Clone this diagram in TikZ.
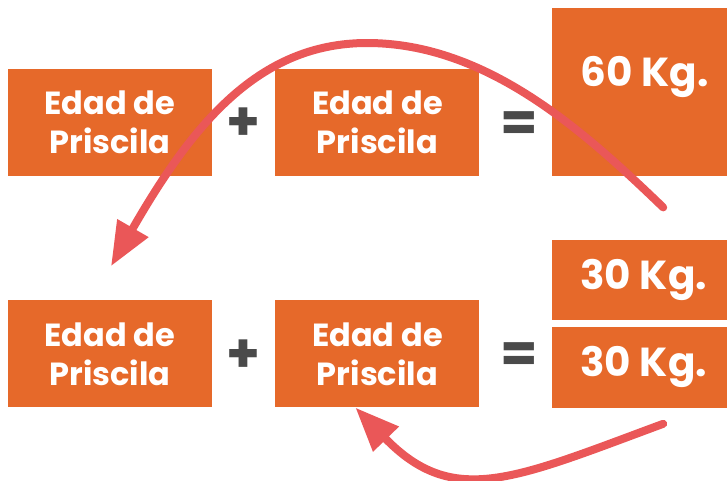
\documentclass[tikz,border=0pt]{standalone}
\usepackage{fontspec}
\setmainfont{Poppins}
\usetikzlibrary{arrows.meta, positioning, calc}
\definecolor{boxorange}{HTML}{E6692A}
\definecolor{arcred}{HTML}{EA5758}
\definecolor{signgray}{HTML}{4A4A4A}

\begin{document}
\begin{tikzpicture}[
    x=1pt, y=-1pt,
    every node/.style={align=center, inner sep=0pt},
    edad/.style={rectangle, fill=boxorange, minimum width=204pt, minimum height=107pt,
                 text=white, font=\fontsize{32}{39}\selectfont\bfseries},
    kgbox/.style={rectangle, fill=boxorange, minimum width=175pt,
                  text=white, font=\fontsize{40.5}{48}\selectfont\bfseries},
    kgtxt/.style={text=white, font=\fontsize{40.5}{48}\selectfont\bfseries},
    sign/.style={text=signgray, font=\fontsize{54}{60}\selectfont\bfseries},
    arc/.style={draw=arcred, line width=8pt, line cap=round,
                -{Triangle[length=44pt, width=34pt]}}
]
\useasboundingbox (0,0) rectangle (727,480);

% Top row
\node[edad] (e1) at (110,122.5) {Edad de\\Priscila};
\node[edad, right=63pt of e1] (e2) {Edad de\\Priscila};
\node[kgbox, minimum height=168pt, anchor=north west] (s60) at (552,8) {};
\node[kgtxt] (t60) at ($(s60.center)+(5,-15)$) {60 Kg.};
\node[sign] (plus1) at ($(e1.east)!0.5!(e2.west)+(0,2)$) {+};
\node[sign] (eq1) at ($(e2.east)!0.5!(e2.east -| s60.west)+(3,4)$) {=};

% Bottom row
\node[edad, below=124pt of e1] (e3) {Edad de\\Priscila};
\node[edad, right=63pt of e3] (e4) {Edad de\\Priscila};
\node[kgbox, minimum height=80pt, anchor=north west] (kgA) at (552,240) {\hspace{8pt}30 Kg.};
\node[kgbox, minimum height=81pt, below=6pt of kgA] (kgB) {\hspace{8pt}30 Kg.};
\node[sign] (plus2) at ($(e3.east)!0.5!(e4.west)+(0,2)$) {+};
\node[sign] (eq2) at ($(e4.east)!0.5!(e4.east -| kgA.west)+(3,4)$) {=};

% Arrows
\coordinate (topstart) at ($(s60.south)+(23.5,31)$);
\coordinate (toppeak) at (367,43);
\coordinate (topend) at ($(e3.north)+(1,-34)$);
\coordinate (botstart) at ($(kgB.south)+(23.5,16)$);
\coordinate (botend) at ($(e4.south)+(-22,0)$);
\draw[arc] (topstart) .. controls +(-79,-76) and +(120,0) .. (toppeak)
                      .. controls +(-110,0) and +(80,-139) .. (topend);
\draw[arc] (botstart) .. controls +(-149,55) and +(98,101) .. (botend);

\end{tikzpicture}
\end{document}
